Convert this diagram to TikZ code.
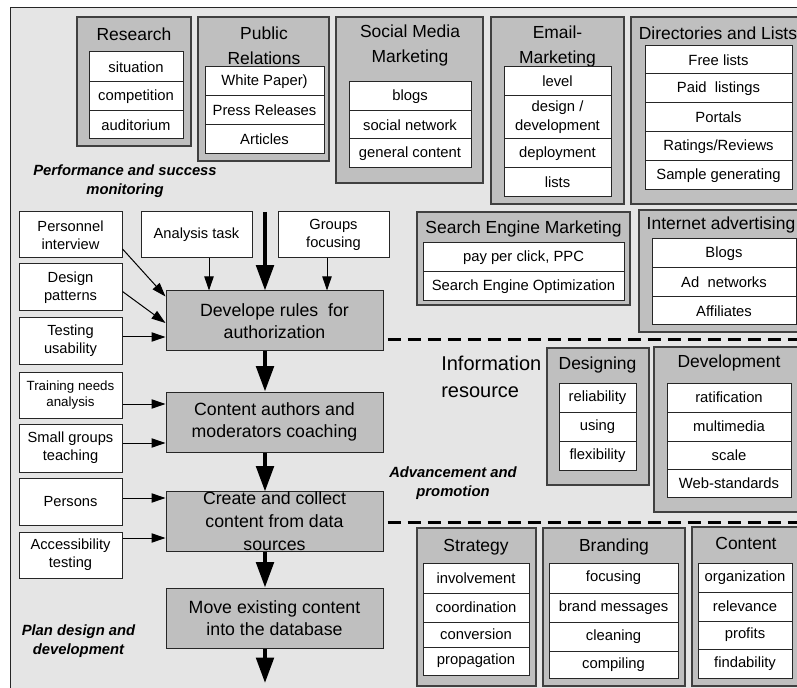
\documentclass[tikz,border=0pt]{standalone}
\usepackage{fontspec}
\setmainfont{Liberation Sans}
\usetikzlibrary{arrows.meta,calc}
\newcommand\bx[8][]{%
  \pgfmathsetmacro\bxw{(#6-#4)*0.75}%
  \pgfmathsetmacro\bxh{(#7-#5)*0.75}%
  \node[#2,minimum width=\bxw pt,minimum height=\bxh pt,#1] (#3) at ({(#4+#6)/2},{(#5+#7)/2}) {#8};}
\tikzset{
  bg/.style={fill=black!10, draw=black!85, line width=0.75pt},
  grp/.style={draw=black!75, fill=black!25, line width=0.9pt, inner sep=0pt},
  itm/.style={draw=black!85, fill=white, line width=0.75pt, inner sep=0pt, align=center, font=\fontsize{11.1}{14}\selectfont},
  ttl/.style={inner sep=0pt, align=center, font=\fontsize{13.1}{18.75}\selectfont},
  lbox/.style={draw=black!85, fill=white, line width=0.75pt, inner sep=0pt, align=center, font=\fontsize{11}{13.5}\selectfont},
  bigbox/.style={draw=black!85, fill=black!25, line width=0.75pt, inner sep=0pt, align=center, font=\fontsize{13.3}{16.5}\selectfont},
  note/.style={inner sep=0pt, align=center, font=\fontsize{11.1}{14.25}\bfseries\itshape\selectfont},
  flow/.style={line width=3pt, -{Triangle[length=19pt,width=13pt]}},
  feed/.style={line width=0.75pt, -{Triangle[length=10.5pt,width=7pt]}},
  sep/.style={line width=2.25pt, dash pattern=on 9.75pt off 5.25pt},
}
\begin{document}
\begin{tikzpicture}[x=0.75pt,y=-0.75pt]
\useasboundingbox (0,0) rectangle (797,688);
\clip (0,0) rectangle (797,688);
\draw[bg] (10,8) rectangle (830,710);

% ---- Research
\bx{grp}{gRes}{77}{17}{191}{146}{}
\node[ttl] (tRes) at (134,34) {Research};
\bx{itm}{iRes1}{89}{52}{183}{82}{situation}
\bx{itm}{iRes2}{89}{82}{183}{111}{competition}
\bx{itm}{iRes3}{89}{111}{183}{139}{auditorium}

% ---- Public Relations
\bx{grp}{gPR}{198}{17}{329}{161}{}
\node[ttl] (tPR) at (264,45.5) {Public\\Relations};
\bx{itm}{iPR1}{205}{67}{324}{96}{White Paper)}
\bx{itm}{iPR2}{205}{96}{324}{125}{Press Releases}
\bx{itm}{iPR3}{205}{125}{324}{154}{Articles}

% ---- Social Media Marketing
\bx{grp}{gSMM}{336}{17}{483}{183}{}
\node[ttl] (tSMM) at (410,45.5) {Social Media\\Marketing};
\bx{itm}{iSMM1}{349}{82}{471}{111}{blogs}
\bx{itm}{iSMM2}{349}{111}{471}{139}{social network}
\bx{itm}{iSMM3}{349}{139}{471}{168}{general content}

% ---- Email-Marketing
\bx{grp}{gEM}{491}{17}{624}{204}{}
\node[ttl] (tEM) at (557.5,46) {Email-\\Marketing};
\bx{itm}{iEM1}{504}{67}{611}{96}{level}
\bx{itm}{iEM2}{504}{96}{611}{139}{design /\\development}
\bx{itm}{iEM3}{504}{139}{611}{168}{deployment}
\bx{itm}{iEM4}{504}{168}{611}{197}{lists}

% ---- Directories and Lists
\bx{grp}{gDL}{631}{17}{806}{204}{}
\node[ttl] (tDL) at (718,33) {Directories and Lists};
\bx{itm}{iDL1}{645}{46}{792}{74}{Free lists}
\bx{itm}{iDL2}{645}{74}{792}{103}{Paid\ \ listings}
\bx{itm}{iDL3}{645}{103}{792}{132}{Portals}
\bx{itm}{iDL4}{645}{132}{792}{161}{Ratings/Reviews}
\bx{itm}{iDL5}{645}{161}{792}{190}{Sample generating}

% ---- Search Engine Marketing
\bx{grp}{gSEM}{417}{212}{630}{305}{}
\node[ttl] (tSEM) at (523.5,229) {Search Engine Marketing};
\bx{itm}{iSEM1}{423}{243}{624}{272}{pay per click, PPC}
\bx{itm}{iSEM2}{423}{272}{624}{301}{Search Engine Optimization}

% ---- Internet advertising
\bx{grp}{gIA}{639}{210}{809}{332}{}
\node[ttl] (tIA) at (721,225) {Internet advertising};
\bx{itm}{iIA1}{652}{239}{796}{268}{Blogs}
\bx{itm}{iIA2}{652}{268}{796}{297}{Ad\ \ networks}
\bx{itm}{iIA3}{652}{297}{796}{325}{Affiliates}

% ---- Designing
\bx{grp}{gDes}{547}{348}{649}{485}{}
\node[ttl] (tDes) at (597.5,365) {Designing};
\bx{itm}{iDes1}{559}{383}{636}{412}{reliability}
\bx{itm}{iDes2}{559}{412}{636}{441}{using}
\bx{itm}{iDes3}{559}{441}{636}{470}{flexibility}

% ---- Development
\bx{grp}{gDev}{654}{347}{804}{512}{}
\node[ttl] (tDev) at (729,363) {Development};
\bx{itm}{iDev1}{667}{383}{791}{412}{ratification}
\bx{itm}{iDev2}{667}{412}{791}{441}{multimedia}
\bx{itm}{iDev3}{667}{441}{791}{469}{scale}
\bx{itm}{iDev4}{667}{469}{791}{497}{Web-standards}

% ---- Strategy
\bx{grp}{gStr}{417}{528}{536}{686}{}
\node[ttl] (tStr) at (476,547) {Strategy};
\bx{itm}{iStr1}{423}{563}{529}{593}{involvement}
\bx{itm}{iStr2}{423}{593}{529}{622}{coordination}
\bx{itm}{iStr3}{423}{622}{529}{647}{conversion}
\bx{itm}{iStr4}{423}{647}{529}{675}{propagation}

% ---- Branding
\bx{grp}{gBr}{543}{528}{685}{686}{}
\node[ttl] (tBr) at (614,547) {Branding};
\bx{itm}{iBr1}{549}{563}{678}{593}{focusing}
\bx{itm}{iBr2}{549}{593}{678}{622}{brand messages}
\bx{itm}{iBr3}{549}{622}{678}{651}{cleaning}
\bx{itm}{iBr4}{549}{651}{678}{678}{compiling}

% ---- Content
\bx{grp}{gCo}{692}{527}{798}{686}{}
\node[ttl] (tCo) at (746,543) {Content};
\bx{itm}{iCo1}{698}{563}{792}{592}{organization}
\bx{itm}{iCo2}{698}{592}{792}{621}{relevance}
\bx{itm}{iCo3}{698}{621}{792}{649}{profits}
\bx{itm}{iCo4}{698}{649}{792}{678}{findability}

% ---- notes
\node[note] (nPerf) at (125,181.5) {Performance and success\\monitoring};
\node[note] (nAdv) at (453,483.5) {Advancement and\\promotion};
\node[note] (nPlan) at (78.5,641.5) {Plan design and\\development};
\node[inner sep=0pt, align=left, anchor=west, font=\fontsize{15}{20.25}\selectfont] (nInfo) at (441,376.5) {Information\\resource};

% ---- left input boxes
\bx{lbox}{pers}{19}{212}{122}{258}{Personnel\\interview}
\bx{lbox}{des}{19}{264}{122}{311}{Design\\patterns}
\bx{lbox}{test}{19}{318}{122}{364}{Testing\\usability}
\bx[font=\fontsize{10}{12.5}\selectfont]{lbox}{train}{19}{372}{122}{418}{Training needs\\analysis}
\bx{lbox}{small}{19}{424}{122}{472}{Small groups\\teaching}
\bx{lbox}{persons}{19}{478}{122}{525}{Persons}
\bx{lbox}{access}{19}{532}{122}{578}{Accessibility\\testing}
\bx{lbox}{ana}{141}{212}{252}{258}{Analysis task}
\bx{lbox}{grpf}{278}{212}{389}{258}{Groups\\focusing}

% ---- main process boxes
\bx{bigbox}{rules}{166}{291}{383}{351}{Develope rules\ \ for\\authorization}
\bx{bigbox}{coach}{166}{392}{383}{452}{Content authors and\\moderators coaching}
\bx[font=\fontsize{13.3}{17.25}\selectfont]{bigbox}{create}{166}{492}{383}{551}{Create and collect\\content from data\\sources}
\bx{bigbox}{move}{166}{588}{383}{648}{Move existing content\\into the database}

% ---- main flow
\coordinate (flowin) at (265,212);
\coordinate (flowout) at (265,683);
\draw[flow] (flowin) -- (flowin |- rules.north);
\draw[flow] (rules.south -| flowin) -- (coach.north -| flowin);
\draw[flow] (coach.south -| flowin) -- (create.north -| flowin);
\draw[flow] (create.south -| flowin) -- (move.north -| flowin);
\draw[flow] (move.south -| flowin) -- (flowout);

% ---- feeding arrows
\draw[feed] (pers.-15) -- ($(rules.north west)+(0,6)$);
\draw[feed] ($(des.east)+(0,4)$) -- ($(rules.west)+(0,2)$);
\draw[feed] ($(test.east)+(0,-4)$) coordinate (fT) -- (fT -| rules.west);
\draw[feed] ($(train.east)+(0,9)$) coordinate (fTr) -- (fTr -| coach.west);
\draw[feed] ($(small.east)+(0,-5)$) coordinate (fS) -- (fS -| coach.west);
\draw[feed] ($(persons.east)+(0,-3.5)$) coordinate (fP) -- (fP -| create.west);
\draw[feed] ($(access.east)+(0,-17)$) coordinate (fA) -- (fA -| create.west);
\draw[feed] ($(ana.south)+(12.5,0)$) coordinate (fAn) -- (fAn |- rules.north);
\draw[feed] ($(grpf.south)+(-6.5,0)$) coordinate (fG) -- (fG |- rules.north);

% ---- dashed separators
\coordinate (sepA) at (805,340);
\coordinate (sepB) at (805,522);
\draw[sep] ($(rules.east)+(4,19)$) -- (sepA);
\draw[sep] ($(create.east)+(4,0.5)$) -- (sepB);
\end{tikzpicture}
\end{document}
